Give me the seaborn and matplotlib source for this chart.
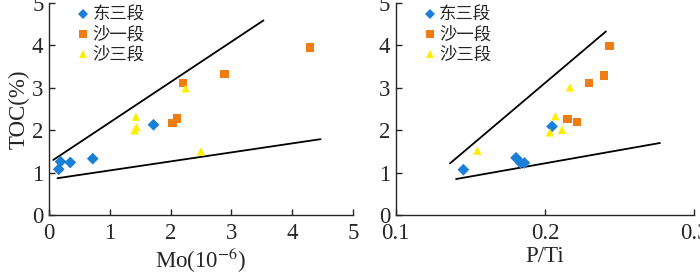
import pandas as pd
import seaborn as sns
import matplotlib.pyplot as plt

# ----- Data ----- #
groups = ["东三段", "沙一段", "沙三段"]
colors = {"东三段": "#1a7fd6", "沙一段": "#f07c14", "沙三段": "#ffee00"}
markers = {"东三段": "D", "沙一段": "s", "沙三段": "^"}

mo_dong3 = [0.19, 0.16, 0.35, 0.72, 1.72]
toc_mo_dong3 = [1.26, 1.08, 1.24, 1.33, 2.13]
mo_sha1 = [2.20, 2.89, 4.30, 2.11, 2.03]
toc_mo_sha1 = [3.12, 3.32, 3.95, 2.28, 2.17]
mo_sha3 = [2.25, 1.43, 1.44, 1.41, 2.50]
toc_mo_sha3 = [2.99, 2.32, 2.07, 2.00, 1.50]

pti_dong3 = [0.1453, 0.1806, 0.1837, 0.1862, 0.2047]
toc_pti_dong3 = [1.07, 1.35, 1.23, 1.23, 2.09]
pti_sha1 = [0.2431, 0.2397, 0.2295, 0.2150, 0.2214]
toc_pti_sha1 = [3.98, 3.29, 3.12, 2.26, 2.19]
pti_sha3 = [0.1547, 0.2069, 0.2167, 0.2033, 0.2114]
toc_pti_sha3 = [1.52, 2.33, 3.01, 1.95, 2.01]

# trend envelope lines (x ends, y ends)
mo_upper_x, mo_upper_y = [0.07, 3.53], [1.30, 4.59]
mo_lower_x, mo_lower_y = [0.14, 4.47], [0.87, 1.79]
pti_upper_x, pti_upper_y = [0.1364, 0.2408], [1.22, 4.33]
pti_lower_x, pti_lower_y = [0.1404, 0.2770], [0.85, 1.70]

df_mo = pd.DataFrame({
    "x": mo_dong3 + mo_sha1 + mo_sha3,
    "TOC": toc_mo_dong3 + toc_mo_sha1 + toc_mo_sha3,
    "Group": ["东三段"] * 5 + ["沙一段"] * 5 + ["沙三段"] * 5,
})
df_pti = pd.DataFrame({
    "x": pti_dong3 + pti_sha1 + pti_sha3,
    "TOC": toc_pti_dong3 + toc_pti_sha1 + toc_pti_sha3,
    "Group": ["东三段"] * 5 + ["沙一段"] * 5 + ["沙三段"] * 5,
})

sns.set_style("ticks")
plt.rcParams["font.family"] = ["Liberation Serif", "Noto Sans CJK SC"]
plt.rcParams["mathtext.fontset"] = "stix"

fig = plt.figure(figsize=(7, 2.74), dpi=100)
ax1 = fig.add_axes([0.070, 0.215, 0.434, 0.774])
ax2 = fig.add_axes([0.5653, 0.215, 0.4266, 0.774])


def draw_panel(ax, df_, upper, lower, xlim, xticks, xlabel, ylabel):
    sns.scatterplot(data=df_, x="x", y="TOC", hue="Group", style="Group", hue_order=groups,
                    style_order=groups, palette=colors, markers=markers, s=36, linewidth=0,
                    ax=ax, zorder=3)
    ax.plot(upper[0], upper[1], color="black", lw=1.3)
    ax.plot(lower[0], lower[1], color="black", lw=1.3)

    ax.set_xlim(*xlim)
    ax.set_ylim(0, 5)
    ax.set_xticks(xticks)
    ax.set_yticks([0, 1, 2, 3, 4, 5])
    ax.tick_params(direction="in", length=4, width=1, labelsize=16.5)
    ax.tick_params(axis="x", pad=6)
    ax.tick_params(axis="y", pad=4)
    for sp in ["top", "right"]:
        ax.spines[sp].set_visible(False)
    for sp in ["left", "bottom"]:
        ax.spines[sp].set_linewidth(1)
    ax.set_xlabel(xlabel, fontsize=16.5, labelpad=1)
    ax.set_ylabel(ylabel, fontsize=16.5, labelpad=2)

    ax.legend(loc="upper left", bbox_to_anchor=(0.087, 0.987), frameon=False,
              prop={"family": "Noto Sans CJK SC", "size": 12.5}, handletextpad=0.1,
              labelspacing=0.12, borderaxespad=0, borderpad=0, handlelength=0.9,
              markerscale=0.9)


draw_panel(ax1, df_mo, (mo_upper_x, mo_upper_y), (mo_lower_x, mo_lower_y),
           (0, 5), [0, 1, 2, 3, 4, 5], r"Mo(10$^{-6}$)", "TOC(%)")
draw_panel(ax2, df_pti, (pti_upper_x, pti_upper_y), (pti_lower_x, pti_lower_y),
           (0.1, 0.3), [0.1, 0.2, 0.3], "P/Ti", "")
ax2.set_xticklabels(["0.1", "0.2", "0.3"])

plt.savefig("out.png", dpi=100)
